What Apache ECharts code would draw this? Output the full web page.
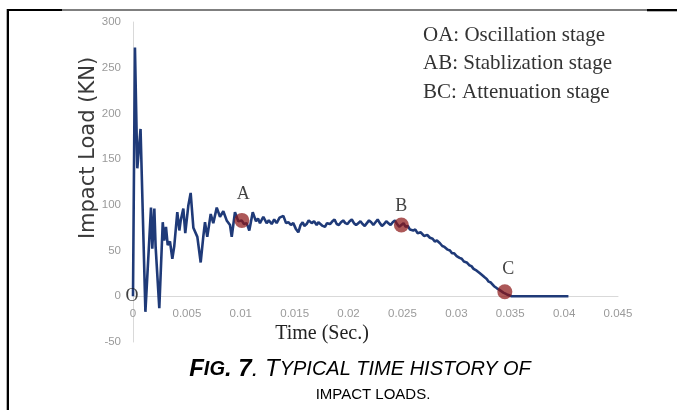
<!DOCTYPE html>
<html><head><meta charset="utf-8">
<script src="https://cdn.jsdelivr.net/npm/echarts@6/dist/echarts.min.js"></script>
<style>html,body{margin:0;padding:0;background:#fff;}#c{width:677px;height:410px;}</style>
</head><body><div id="c"></div>
<script>
// ---- data ----
const times = [0,0.00018,0.0004,0.0007,0.00115,0.00167,0.00179,0.00198,0.0021,0.00244,0.00276,0.0029,0.00306,0.00322,0.00343,0.00365,0.00383,0.00411,0.0043,0.00443,0.00467,0.00485,0.00513,0.00535,0.0056,0.00597,0.00628,0.00652,0.00668,0.00689,0.00721,0.00745,0.00777,0.00807,0.00838,0.00869,0.009,0.00916,0.00946,0.00977,0.01008,0.0103,0.01055,0.01079,0.01111,0.01141,0.0116,0.01178,0.01209,0.0124,0.0126,0.01287,0.0131,0.01333,0.0136,0.01395,0.0142,0.01441,0.01465,0.01487,0.0151,0.01534,0.01555,0.01574,0.0159,0.01611,0.0163,0.01658,0.0168,0.01704,0.0172,0.01735,0.0176,0.01781,0.018,0.01828,0.0185,0.0187,0.0189,0.0191,0.0193,0.0195,0.0197,0.0199,0.0201,0.0203,0.0205,0.0207,0.0209,0.0211,0.0213,0.0215,0.0217,0.0219,0.0221,0.0223,0.0225,0.0227,0.0229,0.0231,0.0233,0.0235,0.0237,0.0239,0.0241,0.0243,0.0245,0.0247,0.0249,0.0251,0.0253,0.0255,0.0257,0.026,0.0262,0.0264,0.0267,0.027,0.0273,0.02755,0.0278,0.028,0.0282,0.02848,0.0287,0.0289,0.0292,0.02941,0.0296,0.0298,0.03003,0.0303,0.0305,0.0307,0.03096,0.0312,0.0314,0.0316,0.03189,0.0321,0.0323,0.0326,0.03282,0.033,0.0332,0.0335,0.03374,0.034,0.03436,0.0347,0.03513,0.0404];
const loads = [0,272,140,183,-17,97,52,96,54,-13,81,61,76,56,60,41,55,92,72,83,96,69,99,113,75,65,37,65,81,65,90,80,97,87,93,83,78,65,92,82,83,79,80,72,92,82,85,80,87,80,83,79,84,80,86,88,80,81,78,80,74,70,78,81,77,79,83,80,82,78,81,83,77,76,80,79,82,84,79,78,81,83,80,79,82,84,80,78,80,82,79,77,80,83,81,78,81,84,80,77,79,82,80,78,81,83,79,76,78,80,76,77,73,72,73,69,70,66,67,64,63,60,61,58,55,54,51,50,47,47,44,42,41,38,37,34,33,30,28,26,24,21,19,16,15,11,9,7,4,2,0,0];
const markerNames = ['A','B','C'];
const markerTimes = [0.0101, 0.0249, 0.0345];
const markerLoads = [83, 78, 5];
const originName = 'O';
const originPoint = [0, 0];
const legendLines = ['OA: Oscillation stage','AB: Stablization stage','BC: Attenuation stage'];
const xAxisSpec = {min: 0, max: 0.045, interval: 0.005};
const yAxisSpec = {min: -50, max: 300, interval: 50};
const xName = 'Time (Sec.)';
const yName = 'Impact Load (KN)';

// ---- chart ----
const lineData = times.map((t, i) => [t, loads[i]]);
const letterOffsets = {O: [-1, 0], A: [1.5, -26], B: [0, -19], C: [3.5, -22]};
const markerData = markerNames.map((n, i) => ({name: n, value: [markerTimes[i], markerLoads[i]]}));
const letterData = [{name: originName, value: originPoint}].concat(markerData).map(d => ({
  name: d.name, value: d.value, label: {offset: letterOffsets[d.name]}
}));

const chart = echarts.init(document.getElementById('c'), null, {renderer: 'canvas'});
const tickStyle = {color: '#9a9a9a', fontSize: 11.5, fontFamily: 'Liberation Sans'};
chart.setOption({
  animation: false,
  backgroundColor: '#fff',
  grid: {left: 133, right: 59, top: 22, bottom: 68, containLabel: false},
  xAxis: {
    type: 'value', min: xAxisSpec.min, max: xAxisSpec.max, interval: xAxisSpec.interval,
    axisLine: {show: true, onZero: true, lineStyle: {color: '#d9d9d9', width: 1}},
    axisTick: {show: false}, splitLine: {show: false},
    axisLabel: Object.assign({margin: -34, formatter: v => String(parseFloat(v.toFixed(4)))}, tickStyle)
  },
  yAxis: {
    type: 'value', min: yAxisSpec.min, max: yAxisSpec.max, interval: yAxisSpec.interval,
    axisLine: {show: true, lineStyle: {color: '#d9d9d9', width: 1}},
    axisTick: {show: false}, splitLine: {show: false},
    axisLabel: Object.assign({margin: 12}, tickStyle)
  },
  series: [
    {type: 'line', data: lineData, showSymbol: false, symbol: 'none',
     lineStyle: {color: '#1f3a78', width: 2.6}, z: 2},
    {type: 'scatter', data: markerData, symbolSize: 15,
     itemStyle: {color: 'rgba(140,24,24,0.9)'}, z: 3},
    {type: 'scatter', data: letterData, symbolSize: 0, z: 4,
     label: {show: true, position: 'inside', formatter: p => p.name,
       fontFamily: 'Liberation Serif', fontSize: 18, color: '#111'}}
  ],
  graphic: [
    {type: 'rect', shape: {x: 6.7, y: 9, width: 2.3, height: 401}, style: {fill: '#000'}},
    {type: 'rect', shape: {x: 7, y: 9, width: 55, height: 2}, style: {fill: '#000'}},
    {type: 'rect', shape: {x: 62, y: 9.5, width: 585, height: 1}, style: {fill: '#000'}},
    {type: 'rect', shape: {x: 647, y: 9, width: 30, height: 2.3}, style: {fill: '#000'}},
    {type: 'text', x: 89, y: 148, rotation: Math.PI / 2,
     style: {text: yName, fontFamily: 'DejaVu Sans', fontSize: 21, fill: '#3a3a3a',
       textAlign: 'center', textVerticalAlign: 'middle'}},
    {type: 'text', x: 322, y: 334,
     style: {text: xName, fontFamily: 'Liberation Serif', fontSize: 20, fill: '#222',
       textAlign: 'center', textVerticalAlign: 'middle'}}
  ].concat(legendLines.map((s, i) => ({
    type: 'text', x: 423, y: 35 + i * 28.5,
    style: {text: s, fontFamily: 'Liberation Serif', fontSize: 21, fill: '#333',
      textAlign: 'left', textVerticalAlign: 'middle'}
  }))).concat([
    {type: 'text', x: 360, y: 369,
     style: {text: '{bf|F}{bs|IG}{bf|. 7}{rf|. T}{rs|YPICAL TIME HISTORY OF}',
       textAlign: 'center', textVerticalAlign: 'middle', fill: '#000',
       rich: {
         bf: {fontFamily: 'Liberation Sans', fontSize: 24, fontWeight: 'bold', fontStyle: 'italic', fill: '#000'},
         bs: {fontFamily: 'Liberation Sans', fontSize: 20, fontWeight: 'bold', fontStyle: 'italic', fill: '#000'},
         rf: {fontFamily: 'Liberation Sans', fontSize: 24, fontStyle: 'italic', fill: '#000'},
         rs: {fontFamily: 'Liberation Sans', fontSize: 20, fontStyle: 'italic', fill: '#000'}
       }}},
    {type: 'text', x: 373, y: 395,
     style: {text: 'IMPACT LOADS.', fontFamily: 'Liberation Sans', fontSize: 15, fill: '#000',
       textAlign: 'center', textVerticalAlign: 'middle'}}
  ])
});
</script></body></html>
